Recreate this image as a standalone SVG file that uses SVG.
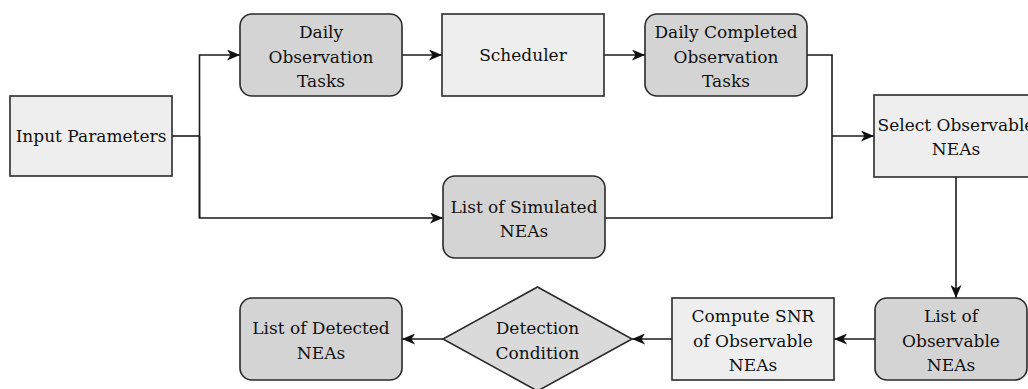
<svg xmlns="http://www.w3.org/2000/svg" width="1028" height="389" viewBox="0 0 1028 389">
<style>
.box{stroke:#2a2a2a;stroke-width:1.6}
.light{fill:#eeeeee}
.dark{fill:#d4d4d4}
.dia{fill:#dadada}
text{font-family:"DejaVu Serif","Liberation Serif",serif;font-size:17px;fill:#111;text-anchor:middle}
.edge{fill:none;stroke:#1a1a1a;stroke-width:1.6}
</style>
<defs>
<marker id="arr" viewBox="0 0 13 11" refX="13" refY="5.5" markerWidth="13" markerHeight="11" markerUnits="userSpaceOnUse" orient="auto">
<path d="M0,0 L13,5.5 L0,11 L3.5,5.5 Z" fill="#111"/>
</marker>
</defs>
<rect width="1028" height="389" fill="#ffffff"/>
<g id="connectors">
<path class="edge" d="M172,136 H199.5"/>
<path class="edge" d="M199.5,218 V55 H240" marker-end="url(#arr)"/>
<path class="edge" d="M199.5,136 V218 H443" marker-end="url(#arr)"/>
<path class="edge" d="M402,55 H442" marker-end="url(#arr)"/>
<path class="edge" d="M604,55 H645" marker-end="url(#arr)"/>
<path class="edge" d="M807,55 H832 V218 H605"/>
<path class="edge" d="M832,136 H874" marker-end="url(#arr)"/>
<path class="edge" d="M956,177 V298" marker-end="url(#arr)"/>
<path class="edge" d="M875,339 H834" marker-end="url(#arr)"/>
<path class="edge" d="M672,339 H632" marker-end="url(#arr)"/>
<path class="edge" d="M443,339 H402" marker-end="url(#arr)"/>
</g>
<g id="input">
<rect class="box light" x="10" y="96" width="162" height="80"/>
<text x="91" y="142">Input Parameters</text>
</g>
<g id="daily-tasks">
<rect class="box dark" x="240" y="14" width="162" height="82" rx="12"/>
<text x="321" y="38">Daily</text>
<text x="321" y="62.5">Observation</text>
<text x="321" y="87">Tasks</text>
</g>
<g id="scheduler">
<rect class="box light" x="442" y="14" width="162" height="82"/>
<text x="523" y="61">Scheduler</text>
</g>
<g id="daily-completed">
<rect class="box dark" x="645" y="14" width="162" height="82" rx="12"/>
<text x="726" y="38">Daily Completed</text>
<text x="726" y="62.5">Observation</text>
<text x="726" y="87">Tasks</text>
</g>
<g id="select">
<rect class="box light" x="874" y="95" width="164" height="82"/>
<text x="956" y="130.5">Select Observable</text>
<text x="956" y="155">NEAs</text>
</g>
<g id="simulated">
<rect class="box dark" x="443" y="176" width="162" height="82" rx="12"/>
<text x="524" y="212.5">List of Simulated</text>
<text x="524" y="237">NEAs</text>
</g>
<g id="observable">
<rect class="box dark" x="875" y="298" width="152" height="82" rx="12"/>
<text x="951" y="322">List of</text>
<text x="951" y="346.5">Observable</text>
<text x="951" y="371">NEAs</text>
</g>
<g id="snr">
<rect class="box light" x="672" y="298" width="162" height="82"/>
<text x="753" y="322">Compute SNR</text>
<text x="753" y="346.5">of Observable</text>
<text x="753" y="371">NEAs</text>
</g>
<g id="detection">
<polygon class="box dia" points="537.5,287 632,339 537.5,391 443,339"/>
<text x="537.5" y="334">Detection</text>
<text x="537.5" y="358.5">Condition</text>
</g>
<g id="detected">
<rect class="box dark" x="240" y="298" width="162" height="82" rx="12"/>
<text x="321" y="334">List of Detected</text>
<text x="321" y="358.5">NEAs</text>
</g>
</svg>
